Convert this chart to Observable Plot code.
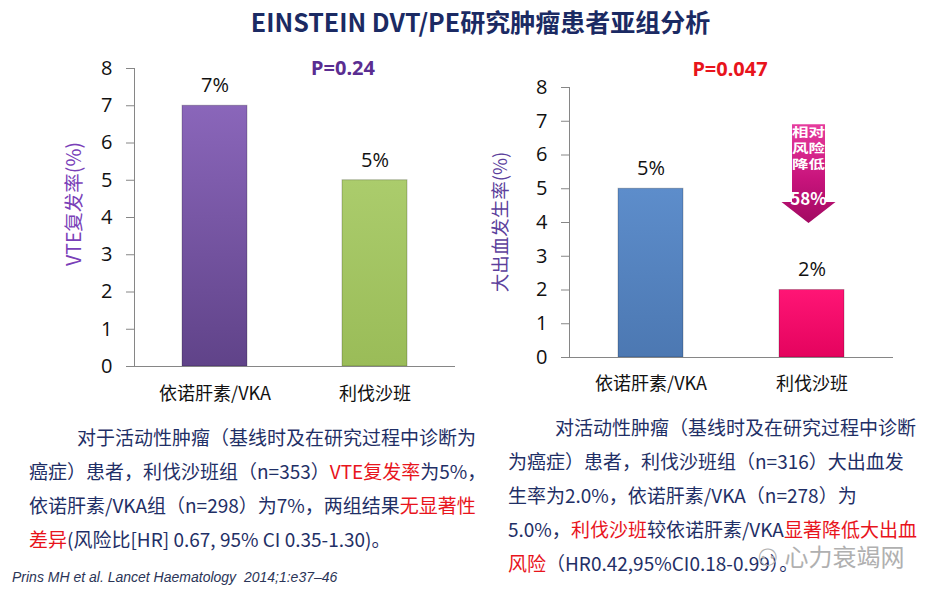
<!DOCTYPE html>
<html><head><meta charset="utf-8">
<script src="https://cdn.jsdelivr.net/npm/d3@7"></script>
<script src="https://cdn.jsdelivr.net/npm/@observablehq/plot@0.6"></script>
<style>
body{margin:0;background:#fff;}
#page{position:relative;width:947px;height:592px;overflow:hidden;background:#fff;font-family:"Noto Sans CJK SC","Noto Sans",sans-serif;}
.abs{position:absolute;white-space:nowrap;}
#title{left:7px;width:947px;top:3px;text-align:center;font-size:25px;font-weight:bold;color:#1b2a63;}
.pval{font-size:20px;font-weight:bold;transform:translate(-50%,-50%);font-family:"Noto Sans","Noto Sans CJK SC",sans-serif;}
.ylab{transform:translate(-50%,-50%) rotate(-90deg);}
.para{font-size:19px;line-height:34px;color:#1f2f66;}
.red{color:#e8141c;}
#cite{left:12px;top:569px;font-size:14px;font-style:italic;color:#2b3557;font-family:"Liberation Sans",sans-serif;}
#wm{left:757px;top:538px;font-size:24px;color:#b0b0b0;}
svg.chart{position:absolute;top:0;}
</style></head>
<body><div id="page">
<div id="title" class="abs">EINSTEIN DVT/PE研究肿瘤患者亚组分析</div>
</div>
<script>
// ---- data ----
const categories = ["依诺肝素/VKA", "利伐沙班"];
const vteRate = [7, 5];
const vteLabels = ["7%", "5%"];
const bleedRate = [5, 2];
const bleedLabels = ["5%", "2%"];
const yTicks = [0, 1, 2, 3, 4, 5, 6, 7, 8];
const vteTitle = "VTE复发率(%)";
const bleedTitle = "大出血发生率(%)";
const vteP = "P=0.24";
const bleedP = "P=0.047";
const arrowCategory = "利伐沙班";
const arrowSpan = [6.9, 4.59, 3.97]; // shaft top, head start, tip (in % units)
const arrowText = ["相对", "风险", "降低", "58%"];

// ---- styles ----
const vteFills = [["#8a66ba", "#604389"], ["#abcc6c", "#9abc58"]];
const bleedFills = [["#5d8dcb", "#4c78b2"], ["#ff1575", "#e4035e"]];
const axisGray = "#868686";
const page = document.getElementById("page");

function addGradients(svg, id, pairs) {
  const defs = d3.select(svg).insert("defs", ":first-child");
  pairs.forEach((p, i) => {
    const g = defs.append("linearGradient").attr("id", id + i).attr("x1", 0).attr("x2", 0).attr("y1", 0).attr("y2", 1);
    g.append("stop").attr("offset", "0%").attr("stop-color", p[0]);
    g.append("stop").attr("offset", "100%").attr("stop-color", p[1]);
  });
  return defs;
}

function makeChart({values, labels, fills, gid, margins, left, tickLabelPad, extra = []}) {
  const data = categories.map((c, i) => ({cat: c, v: values[i], label: labels[i]}));
  const svg = Plot.plot({
    width: 473, height: 410,
    marginTop: margins[0], marginRight: margins[1], marginBottom: margins[2], marginLeft: margins[3],
    style: {fontFamily: '"Open Sans","Noto Sans CJK SC",sans-serif', background: "transparent", color: "#111", overflow: "visible"},
    x: {domain: categories, paddingInner: 0.595, paddingOuter: 0.3, label: null},
    y: {domain: [0, 8], label: null},
    color: {domain: categories, range: fills.map((_, i) => `url(#${gid}${i})`)},
    marks: [
      Plot.axisY({ticks: yTicks, tickSize: 8, tickPadding: 14, fontSize: 20, stroke: axisGray, fill: "#111", label: null, tickFormat: d => d}),
      Plot.frame({anchor: "left", stroke: axisGray}),
      Plot.axisX({tickSize: 0, tickPadding: tickLabelPad, lineAnchor: "middle", fontSize: 18, fill: "#111", label: null, fontFamily: '"Noto Sans CJK SC",sans-serif'}),
      Plot.barY(data, {x: "cat", y: "v", fill: "cat"}),
      Plot.barY(data, {x: "cat", y: "v", fill: "none", stroke: "#000", strokeOpacity: 0.22}),
      Plot.ruleY([0], {stroke: axisGray}),
      Plot.text(data, {x: "cat", y: "v", text: "label", dy: -20, fontSize: 20, fill: "#111"}),
      ...extra
    ]
  });
  svg.classList.add("chart");
  svg.style.left = left + "px";
  addGradients(svg, gid, fills);
  page.appendChild(svg);
  return svg;
}

makeChart({values: vteRate, labels: vteLabels, fills: vteFills, gid: "gv", margins: [68, 18, 44, 134], left: 0, tickLabelPad: 28});

const arrowMark = (index, scales) => {
  const x = scales.x, y = scales.y;
  const cx = x(arrowCategory) + (x.bandwidth ? x.bandwidth() / 2 : 0) - 3;
  const yTop = y(arrowSpan[0]), yHead = y(arrowSpan[1]), yTip = y(arrowSpan[2]);
  const hw = 16.5, hh = 27;
  const g = d3.create("svg:g");
  g.append("path")
    .attr("d", `M${cx - hw},${yTop}H${cx + hw}V${yHead}H${cx + hh}L${cx},${yTip}L${cx - hh},${yHead}H${cx - hw}Z`)
    .attr("fill", "url(#arrowGrad)");
  const offs = [7, 23, 39, 73];
  arrowText.forEach((t, i) => {
    const last = i === arrowText.length - 1;
    g.append("text").attr("x", cx).attr("y", yTop + offs[i]).attr("text-anchor", "middle")
      .attr("dominant-baseline", "central").attr("fill", "#fff").attr("font-weight", "bold")
      .attr("font-size", last ? 17 : 12.5)
      .attr("textLength", last ? null : 33).attr("lengthAdjust", "spacingAndGlyphs")
      .attr("font-family", '"Noto Sans CJK SC",sans-serif').text(t);
  });
  return g.node();
};

const svg2 = makeChart({values: bleedRate, labels: bleedLabels, fills: bleedFills, gid: "gb", margins: [87, 54, 53, 95], left: 474, tickLabelPad: 27, extra: [arrowMark]});
{
  const defs = d3.select(svg2).select("defs");
  const g = defs.append("linearGradient").attr("id", "arrowGrad").attr("x1", 0).attr("x2", 0).attr("y1", 0).attr("y2", 1);
  g.append("stop").attr("offset", "0%").attr("stop-color", "#e63c9e");
  g.append("stop").attr("offset", "55%").attr("stop-color", "#c8147c");
  g.append("stop").attr("offset", "100%").attr("stop-color", "#a20a62");
}

function addDiv(cls, html, style) {
  const d = document.createElement("div");
  d.className = "abs " + cls;
  d.innerHTML = html;
  Object.assign(d.style, style);
  page.appendChild(d);
  return d;
}
addDiv("pval", vteP, {left: "343px", top: "67px", color: "#5a2d91"});
addDiv("pval", bleedP, {left: "730px", top: "68px", color: "#e8141c"});
addDiv("ylab", vteTitle, {left: "72px", top: "204px", color: "#7a3fb8", fontSize: "19.5px"});
addDiv("ylab", bleedTitle, {left: "499px", top: "222px", color: "#5c3f9c", fontSize: "18.5px"});

addDiv("para",
  '<span style="padding-left:48px"></span>对于活动性肿瘤（基线时及在研究过程中诊断为<br>' +
  '癌症）患者，利伐沙班组（n=353）<span class="red">VTE复发率</span>为5%，<br>' +
  '依诺肝素/VKA组（n=298）为7%，两组结果<span class="red">无显著性</span><br>' +
  '<span class="red">差异</span>(风险比[HR] 0.67, 95% CI 0.35-1.30)。',
  {left: "29px", top: "420px"});
addDiv("para",
  '<span style="padding-left:47px"></span>对活动性肿瘤（基线时及在研究过程中诊断<br>' +
  '为癌症）患者，利伐沙班组（n=316）大出血发<br>' +
  '生率为2.0%，依诺肝素/VKA（n=278）为<br>' +
  '5.0%，<span class="red">利伐沙班</span>较依诺肝素/VKA<span class="red">显著降低大出血</span><br>' +
  '<span class="red">风险</span>（HR0.42,95%CI0.18-0.99）。',
  {left: "508px", top: "410px"});
addDiv("", "Prins MH et al. Lancet Haematology&nbsp; 2014;1:e37–46", {}).id = "cite";
addDiv("", "⚇ 心力衰竭网", {}).id = "wm";
</script>
</body></html>
